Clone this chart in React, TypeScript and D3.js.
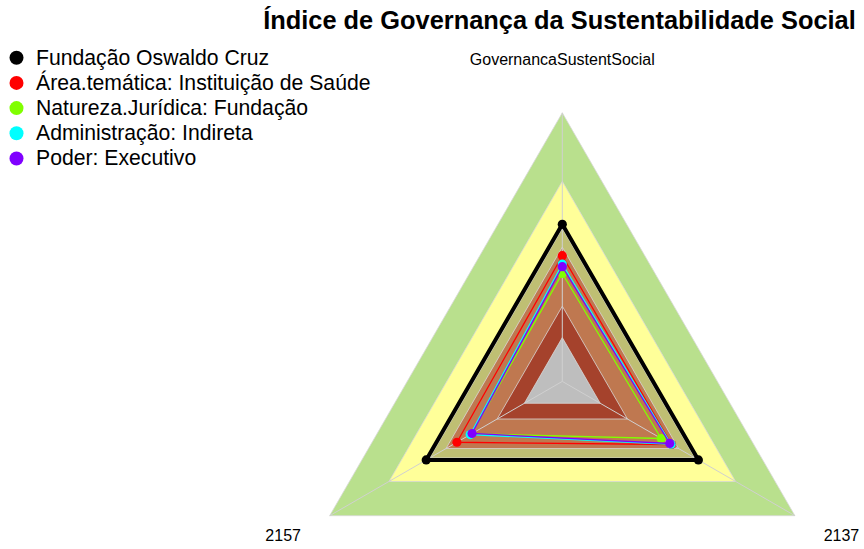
import React from "react";
import * as d3 from "d3";

// Axis names, clockwise from the top
const axes = ["GovernancaSustentSocial", "2157", "2137"];

// Reference bands (fraction of the full scale), outermost first
const bandLevels = [1.0, 0.745, 0.57, 0.5, 0.28, 0.163];
const bandColors = ["#b9e08d", "#ffff99", "#bfbf73", "#bf7850", "#a5422c", "#bebebe"];

// Series
const seriesNames = [
  "Fundação Oswaldo Cruz",
  "Área.temática: Instituição de Saúde",
  "Natureza.Jurídica: Fundação",
  "Administração: Indireta",
  "Poder: Executivo",
];
const seriesColors = ["#000000", "#ff0000", "#80ff00", "#00ffff", "#8000ff"];
const seriesWidths = [4, 1.3, 1.3, 1.3, 1.3];

const fiocruz = [0.585, 0.585, 0.585];
const areaTematica = [0.468, 0.453, 0.47];
const naturezaJuridica = [0.402, 0.39, 0.425];
const administracao = [0.437, 0.396, 0.468];
const poder = [0.427, 0.388, 0.462];
const seriesValues = [fiocruz, areaTematica, naturezaJuridica, administracao, poder];

const title = "Índice de Governança da Sustentabilidade Social";

const W = 864;
const H = 549;
const cx = 562.3;
const cy = 381.4;
const R = 268.6;
const FONT = "'Liberation Sans', Arial, sans-serif";

export default function App() {
  const r = d3.scaleLinear().domain([0, 1]).range([0, R]);
  // Axis directions: top, lower-left, lower-right
  const dirs = axes.map((_, i) => {
    const a = -Math.PI / 2 - (i * 2 * Math.PI) / axes.length;
    return [Math.cos(a), Math.sin(a)];
  });

  const pt = (i: number, v: number): [number, number] => [
    cx + dirs[i][0] * r(v),
    cy + dirs[i][1] * r(v),
  ];
  const line = d3.line<[number, number]>().curve(d3.curveLinearClosed);

  return (
    <svg
      width={W}
      height={H}
      style={{ position: "absolute", left: 0, top: 0, background: "#fff" }}
      fontFamily={FONT}
    >
      <text
        x={559.5}
        y={29}
        textAnchor="middle"
        fontWeight="bold"
        fontSize={25.4}
        fill="#000"
      >
        {title}
      </text>

      {bandLevels.map((lv, k) => (
        <path
          key={"band" + k}
          d={line(axes.map((_, i) => pt(i, lv))) || ""}
          fill={bandColors[k]}
          stroke="#d8d8d8"
          strokeWidth={0.8}
        />
      ))}

      {axes.map((_, i) => {
        const [x, y] = pt(i, 1);
        return (
          <line key={"ax" + i} x1={cx} y1={cy} x2={x} y2={y} stroke="#d0d0d0" strokeWidth={1} />
        );
      })}

      {seriesValues.map((vals, s) => (
        <g key={"s" + s}>
          <path
            d={line(vals.map((v, i) => pt(i, v))) || ""}
            fill="none"
            stroke={seriesColors[s]}
            strokeWidth={seriesWidths[s]}
            strokeLinejoin="miter"
          />
          {vals.map((v, i) => {
            const [x, y] = pt(i, v);
            return <circle key={i} cx={x} cy={y} r={4.6} fill={seriesColors[s]} />;
          })}
        </g>
      ))}

      {axes.map((name, i) => {
        const [x, y] = pt(i, 1.2);
        return (
          <text
            key={"lab" + i}
            x={x}
            y={i === 0 ? y : Math.min(y, H - 14)}
            dy="0.36em"
            textAnchor="middle"
            fontSize={16}
            fill="#000"
          >
            {name}
          </text>
        );
      })}

      {seriesNames.map((name, s) => {
        const base = 64.5 + s * 25.2;
        return (
          <g key={"lg" + s}>
            <circle cx={16.5} cy={base - 6.8} r={7} fill={seriesColors[s]} />
            <text x={36} y={base} fontSize={21.2} fill="#000">
              {name}
            </text>
          </g>
        );
      })}
    </svg>
  );
}
